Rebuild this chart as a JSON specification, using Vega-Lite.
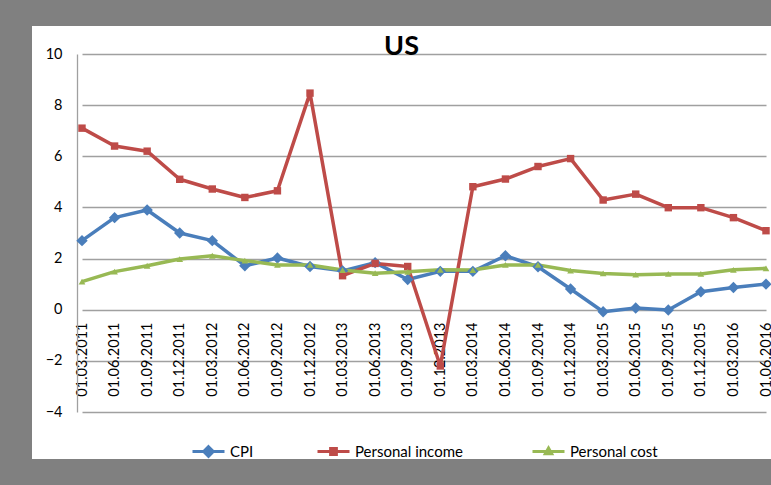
{
  "$schema": "https://vega.github.io/schema/vega-lite/v6.json",
  "autosize": {"type": "none"},
  "padding": {"left": 32, "top": 26, "right": 0, "bottom": 26},
  "width": 739,
  "height": 433,
  "background": "#808080",
  "config": {
    "view": {"fill": "white", "stroke": null},
    "font": "Lato",
    "legend": {
      "title": null,
      "orient": "none",
      "direction": "horizontal",
      "padding": 0,
      "symbolSize": 1024,
      "symbolStrokeWidth": 3,
      "labelFont": "Lato",
      "labelFontSize": 15,
      "labelColor": "#000000",
      "labelOffset": 4
    }
  },
  "title": {
    "text": "US",
    "font": "Lato",
    "fontSize": 27,
    "fontWeight": "bold",
    "color": "#000000",
    "anchor": "middle",
    "baseline": "alphabetic",
    "offset": -27,
    "dy": 29
  },
  "data": {
    "values": [
      {"date": "01.03.2011", "CPI": 2.7, "Personal income": 7.1, "Personal cost": 1.1},
      {"date": "01.06.2011", "CPI": 3.6, "Personal income": 6.4, "Personal cost": 1.49},
      {"date": "01.09.2011", "CPI": 3.9, "Personal income": 6.2, "Personal cost": 1.72},
      {"date": "01.12.2011", "CPI": 3.0, "Personal income": 5.1, "Personal cost": 1.98},
      {"date": "01.03.2012", "CPI": 2.7, "Personal income": 4.72, "Personal cost": 2.11},
      {"date": "01.06.2012", "CPI": 1.72, "Personal income": 4.39, "Personal cost": 1.92},
      {"date": "01.09.2012", "CPI": 2.02, "Personal income": 4.65, "Personal cost": 1.75},
      {"date": "01.12.2012", "CPI": 1.69, "Personal income": 8.47, "Personal cost": 1.75},
      {"date": "01.03.2013", "CPI": 1.52, "Personal income": 1.33, "Personal cost": 1.55},
      {"date": "01.06.2013", "CPI": 1.84, "Personal income": 1.81, "Personal cost": 1.43},
      {"date": "01.09.2013", "CPI": 1.18, "Personal income": 1.69, "Personal cost": 1.48},
      {"date": "01.12.2013", "CPI": 1.5, "Personal income": -2.2, "Personal cost": 1.56},
      {"date": "01.03.2014", "CPI": 1.5, "Personal income": 4.81, "Personal cost": 1.55},
      {"date": "01.06.2014", "CPI": 2.11, "Personal income": 5.11, "Personal cost": 1.75},
      {"date": "01.09.2014", "CPI": 1.68, "Personal income": 5.6, "Personal cost": 1.75},
      {"date": "01.12.2014", "CPI": 0.81, "Personal income": 5.91, "Personal cost": 1.53},
      {"date": "01.03.2015", "CPI": -0.08, "Personal income": 4.29, "Personal cost": 1.42},
      {"date": "01.06.2015", "CPI": 0.07, "Personal income": 4.52, "Personal cost": 1.37},
      {"date": "01.09.2015", "CPI": -0.01, "Personal income": 3.99, "Personal cost": 1.4},
      {"date": "01.12.2015", "CPI": 0.7, "Personal income": 3.99, "Personal cost": 1.4},
      {"date": "01.03.2016", "CPI": 0.87, "Personal income": 3.6, "Personal cost": 1.56},
      {"date": "01.06.2016", "CPI": 1.0, "Personal income": 3.09, "Personal cost": 1.62}
    ]
  },
  "transform": [
    {"fold": ["CPI", "Personal income", "Personal cost"], "as": ["series", "value"]}
  ],
  "encoding": {
    "x": {
      "field": "date",
      "type": "ordinal",
      "sort": null,
      "scale": {"type": "point", "range": [50, 734], "padding": 0},
      "axis": {
        "title": null,
        "orient": "bottom",
        "offset": -150,
        "domain": false,
        "ticks": false,
        "grid": false,
        "labelAngle": 270,
        "labelAlign": "right",
        "labelBaseline": "middle",
        "labelPadding": 13,
        "labelFont": "Lato",
        "labelFontSize": 14.5,
        "labelColor": "#000000",
        "labelOverlap": false
      }
    },
    "y": {
      "field": "value",
      "type": "quantitative",
      "scale": {"domain": [-4, 10], "range": [386, 28], "nice": false, "zero": false},
      "axis": {
        "title": null,
        "orient": "left",
        "offset": -45,
        "values": [-4, -2, 0, 2, 4, 6, 8, 10],
        "ticks": false,
        "domainColor": "#a0a0a0",
        "domainWidth": 1.3,
        "grid": true,
        "gridColor": "#a0a0a0",
        "gridWidth": 1.3,
        "labelPadding": 15,
        "labelFont": "Lato",
        "labelFontSize": 14.5,
        "labelColor": "#000000"
      }
    }
  },
  "layer": [
    {
      "transform": [{"filter": "datum.series === 'CPI'"}],
      "mark": {"type": "line", "strokeWidth": 3.5, "strokeJoin": "round"},
      "encoding": {
        "color": {
          "field": "series",
          "type": "nominal",
          "scale": {"domain": ["CPI"], "range": ["#4a7ebb"]},
          "legend": {
            "legendX": 159,
            "legendY": 408,
            "symbolType": "M-1,0H1M0,-0.3L0.3,0L0,0.3L-0.3,0Z",
            "symbolFillColor": "#4a7ebb",
            "symbolStrokeColor": "#4a7ebb"
          }
        }
      }
    },
    {
      "transform": [{"filter": "datum.series === 'Personal income'"}],
      "mark": {"type": "line", "strokeWidth": 3.5, "strokeJoin": "round"},
      "encoding": {
        "color": {
          "field": "series",
          "type": "nominal",
          "scale": {"domain": ["Personal income"], "range": ["#be4b48"]},
          "legend": {
            "legendX": 284,
            "legendY": 408,
            "symbolType": "M-1,0H1M-0.18,-0.18H0.18V0.18H-0.18Z",
            "symbolFillColor": "#be4b48",
            "symbolStrokeColor": "#be4b48"
          }
        }
      }
    },
    {
      "transform": [{"filter": "datum.series === 'Personal cost'"}],
      "mark": {"type": "line", "strokeWidth": 3.5, "strokeJoin": "round"},
      "encoding": {
        "color": {
          "field": "series",
          "type": "nominal",
          "scale": {"domain": ["Personal cost"], "range": ["#98b954"]},
          "legend": {
            "legendX": 499,
            "legendY": 408,
            "symbolType": "M-1,0H1M0,-0.22L0.2,0.14L-0.2,0.14Z",
            "symbolFillColor": "#98b954",
            "symbolStrokeColor": "#98b954"
          }
        }
      }
    },
    {
      "transform": [{"filter": "datum.series === 'CPI'"}],
      "mark": {"type": "point", "filled": true, "opacity": 1, "shape": "diamond", "size": 130, "color": "#4a7ebb"}
    },
    {
      "transform": [{"filter": "datum.series === 'Personal income'"}],
      "mark": {"type": "point", "filled": true, "opacity": 1, "shape": "square", "size": 55, "color": "#be4b48"}
    },
    {
      "transform": [{"filter": "datum.series === 'Personal cost'"}],
      "mark": {"type": "point", "filled": true, "opacity": 1, "shape": "triangle-up", "size": 45, "color": "#98b954"}
    }
  ],
  "resolve": {"scale": {"color": "independent"}, "legend": {"color": "independent"}}
}
